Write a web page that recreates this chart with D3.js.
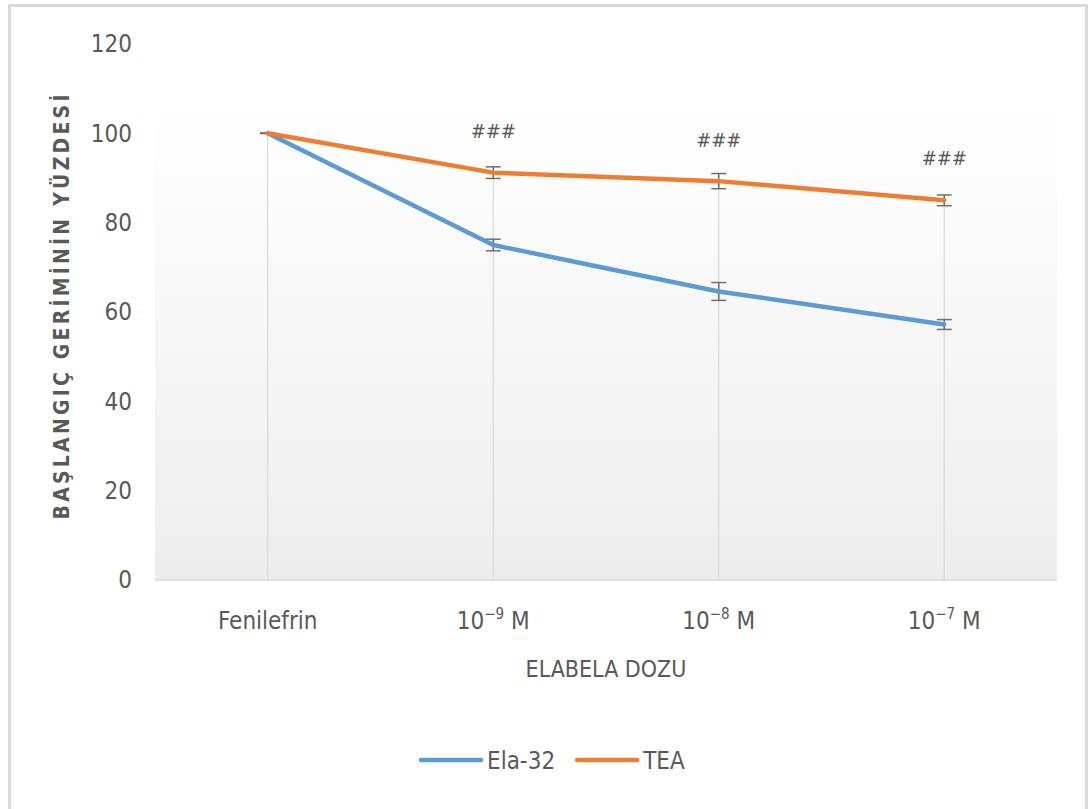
<!DOCTYPE html>
<html>
<head>
<meta charset="utf-8">
<script src="https://cdn.jsdelivr.net/npm/d3@7"></script>
<style>
  html, body { margin: 0; padding: 0; background: #fff; }
  svg text { font-family: "Liberation Sans Narrow", "DejaVu Sans Condensed", "Open Sans", sans-serif; }
</style>
</head>
<body>
<svg id="chart" width="1090" height="809"></svg>
<script>
// Dose groups along the x axis
const categories = ["Fenilefrin", "10^-9 M", "10^-8 M", "10^-7 M"];
// Percent of initial contraction, mean values
const ela32 = [100, 75.0, 64.6, 57.2];
const tea   = [100, 91.2, 89.3, 85.0];
// Error bar half-widths (SEM)
const ela32Err = [0, 1.3, 2.0, 1.1];
const teaErr   = [0, 1.3, 1.7, 1.2];
// Significance markers above each dose
const sigLabels = ["", "###", "###", "###"];
const yTicks = [0, 20, 40, 60, 80, 100, 120];

const series = [
  { name: "Ela-32", values: ela32, err: ela32Err, color: "#5b9bd5" },
  { name: "TEA",    values: tea,   err: teaErr,   color: "#ed7d31" }
];

const svg = d3.select("#chart");

// Outer chart frame
svg.append("rect")
  .attr("x", 9.5).attr("y", 5.5).attr("width", 1077).attr("height", 820)
  .attr("fill", "#fff").attr("stroke", "#d9d9d9").attr("stroke-width", 3);

const plotLeft = 155, plotRight = 1057, plotTop = 44, plotBottom = 580;
const fillTop = 105;

const x = d3.scaleBand().domain(categories).range([plotLeft, plotRight]).padding(0);
const y = d3.scaleLinear().domain([0, 120]).range([plotBottom, plotTop]);
const cx = c => x(c) + x.bandwidth() / 2;

// Plot area fill: vertical gradient
const defs = svg.append("defs");
const grad = defs.append("linearGradient").attr("id", "plotFill")
  .attr("x1", 0).attr("y1", 0).attr("x2", 0).attr("y2", 1);
grad.append("stop").attr("offset", "0%").attr("stop-color", "#ffffff");
grad.append("stop").attr("offset", "100%").attr("stop-color", "#ededed");

svg.append("rect")
  .attr("x", plotLeft).attr("y", fillTop)
  .attr("width", plotRight - plotLeft).attr("height", plotBottom - fillTop)
  .attr("fill", "url(#plotFill)");

// Drop lines from the highest series down to the axis
svg.append("g").selectAll("line")
  .data(categories)
  .join("line")
  .attr("x1", cx).attr("x2", cx)
  .attr("y1", (c, i) => y(Math.max(ela32[i], tea[i])))
  .attr("y2", y(0))
  .attr("stroke", "#d9d9d9").attr("stroke-width", 1.2);

// Category axis line
svg.append("line")
  .attr("x1", plotLeft).attr("x2", plotRight).attr("y1", y(0)).attr("y2", y(0))
  .attr("stroke", "#d9d9d9").attr("stroke-width", 1.5);

// Y axis tick labels (no axis line)
const yAxis = d3.axisLeft(y).tickValues(yTicks).tickSize(0).tickPadding(0);
const yg = svg.append("g").attr("transform", "translate(132,0)").call(yAxis);
yg.select(".domain").remove();
yg.selectAll("text")
  .attr("fill", "#595959").attr("font-size", 24)
  .style("font-family", "'Liberation Sans Narrow', 'DejaVu Sans Condensed', sans-serif");

// X axis labels with superscript exponents
const xg = svg.append("g");
categories.forEach(c => {
  const t = xg.append("text")
    .attr("x", cx(c)).attr("y", 629)
    .attr("text-anchor", "middle")
    .attr("fill", "#595959").attr("font-size", 24);
  const m = c.match(/^10\^(-?\d+) M$/);
  if (m) {
    t.append("tspan").text("10");
    t.append("tspan").attr("dy", -10).attr("font-size", 15).text("\u2212" + m[1].replace("-", ""));
    t.append("tspan").attr("dy", 10).text(" M");
  } else {
    t.text(c);
  }
});

// Axis titles
svg.append("text")
  .attr("x", 606).attr("y", 677)
  .attr("text-anchor", "middle")
  .attr("fill", "#595959").attr("font-size", 23)
  .text("ELABELA DOZU");

svg.append("text")
  .attr("transform", "translate(69,307) rotate(-90)")
  .attr("text-anchor", "middle")
  .attr("fill", "#595959").attr("font-size", 21).attr("font-weight", "bold")
  .attr("textLength", 425).attr("lengthAdjust", "spacing")
  .text("BAŞLANGIÇ GERİMİNİN YÜZDESİ");

// Error bars
const errG = svg.append("g");
series.forEach(s => {
  s.values.forEach((v, i) => {
    const xc = cx(categories[i]);
    const lo = y(v - s.err[i]), hi = y(v + s.err[i]);
    errG.append("line").attr("x1", xc).attr("x2", xc).attr("y1", lo).attr("y2", hi)
      .attr("stroke", "#6f6f6f").attr("stroke-width", 1.5);
    [lo, hi].forEach(yy => errG.append("line")
      .attr("x1", xc - 7.5).attr("x2", xc + 7.5).attr("y1", yy).attr("y2", yy)
      .attr("stroke", "#6f6f6f").attr("stroke-width", 1.5));
  });
});

// Series lines
const line = d3.line().x((d, i) => cx(categories[i])).y(d => y(d));
series.forEach(s => {
  svg.append("path")
    .datum(s.values)
    .attr("d", line)
    .attr("fill", "none")
    .attr("stroke", s.color)
    .attr("stroke-width", 4.5)
    .attr("stroke-linejoin", "round")
    .attr("stroke-linecap", "round");
});

// Significance markers
const sigY = [0, 138, 147, 165];
svg.append("g").selectAll("text")
  .data(categories.filter((c, i) => sigLabels[i]))
  .join("text")
  .attr("x", cx)
  .attr("y", c => sigY[categories.indexOf(c)])
  .attr("text-anchor", "middle")
  .attr("fill", "#595959").attr("font-size", 20)
  .text(c => sigLabels[categories.indexOf(c)]);

// Legend
const legend = svg.append("g").attr("transform", "translate(421,760)");
let lx = 0;
series.forEach(s => {
  legend.append("line")
    .attr("x1", lx).attr("x2", lx + 60).attr("y1", 0).attr("y2", 0)
    .attr("stroke", s.color).attr("stroke-width", 4.5).attr("stroke-linecap", "round");
  const t = legend.append("text")
    .attr("x", lx + 66).attr("y", 9)
    .attr("fill", "#595959").attr("font-size", 24)
    .text(s.name);
  lx += 66 + t.node().getComputedTextLength() + 22;
});
</script>
</body>
</html>
